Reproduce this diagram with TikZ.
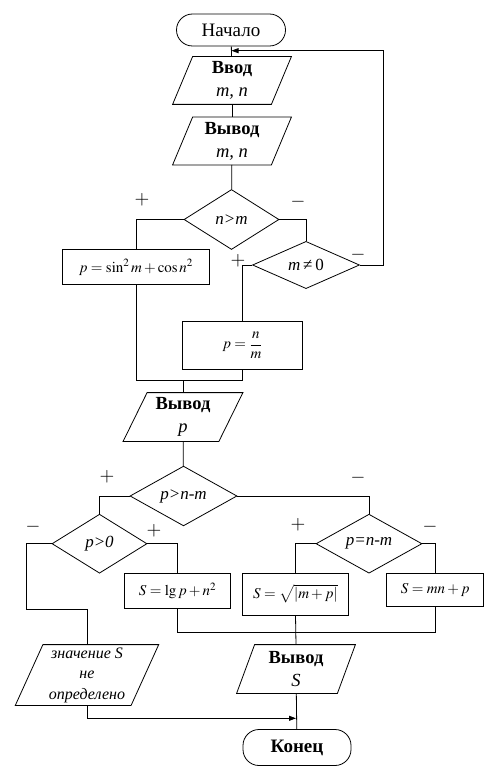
\documentclass[tikz,border=0pt]{standalone}
\usepackage{mathptmx}
\usepackage{fontspec}
\setmainfont{Liberation Serif}
\usetikzlibrary{arrows.meta,shapes.geometric}
\newcommand\drawpara[2]{\draw[ln] ([xshift=#2]#1.north west) -- ([xshift=#2]#1.north east) -- ([xshift=-#2]#1.south east) -- ([xshift=-#2]#1.south west) -- cycle;}
\begin{document}
\begin{tikzpicture}[x=1pt,y=-1pt,
  ln/.style={line width=0.8pt},
  every path/.style={line width=0.8pt},
  term/.style={draw, rectangle, rounded corners=16pt, minimum width=109pt, minimum height=32pt, inner sep=0pt, font=\fontsize{19}{21}\selectfont},
  io/.style={rectangle, inner sep=0pt, align=center, font=\fontsize{18.5}{23}\selectfont},
  proc/.style={draw, rectangle, inner sep=0pt, font=\fontsize{15}{17}\selectfont},
  dec/.style={draw, diamond, inner sep=0pt, font=\fontsize{17}{19}\selectfont},
  lbl/.style={font=\fontsize{19}{21}\selectfont, inner sep=0pt},
  arr/.style={-{Triangle[length=7pt,width=5pt]}}]
\useasboundingbox (0,0) rectangle (500,773);

% nodes
\node[term] (start) at (231,30) {Начало};
\node[io, minimum width=98pt, minimum height=47pt] (in1) at (232,80.5) {\textbf{Ввод}\\\textit{m, n}};
\node[io, minimum width=98pt, minimum height=47pt] (out1) at (232,141) {\textbf{Вывод}\\\textit{m, n}};
\node[dec, minimum width=95pt, minimum height=60pt] (d1) at (231.5,219.5) {\textit{n>m}};
\node[proc, minimum width=147pt, minimum height=35pt] (b1) at (136,267) {$p=\sin^2 m+\cos n^2$};
\node[dec, minimum width=107pt, minimum height=45pt] (d2) at (306,265) {\textit{m}\,≠\,0};
\node[proc, minimum width=120pt, minimum height=48pt] (b2) at (242.5,345.5) {$p=\displaystyle\frac{n}{m}$};
\node[io, minimum width=95pt, minimum height=48pt] (out2) at (183,417) {\textbf{Вывод}\\\textit{p}};
\node[dec, minimum width=107pt, minimum height=59pt] (d3) at (183.5,496) {\textit{p>n-m}};
\node[dec, minimum width=95pt, minimum height=59pt] (d4) at (99.5,543.7) {\textit{p>0}};
\node[dec, minimum width=106pt, minimum height=59pt] (d5) at (369,543.7) {\textit{p=n-m}};
\node[proc, minimum width=106pt, minimum height=35pt] (b3) at (177.5,591) {$S=\lg p+n^2$};
\node[proc, minimum width=106pt, minimum height=42pt] (b4) at (295.5,594) {$S=\sqrt{|m+p|}$};
\node[proc, minimum width=97pt, minimum height=33pt] (b5) at (435.3,589.7) {$S=mn+p$};
\node[io, minimum width=115pt, minimum height=60pt, font=\fontsize{16}{20.5}\selectfont\itshape] (out3) at (87,675) {значение \textit{S}\\не\\определено};
\node[io, minimum width=100pt, minimum height=48pt] (out4) at (296,669) {\textbf{Вывод}\\\textit{S}};
\node[term, minimum width=108pt, minimum height=36pt, font=\fontsize{19}{21}\selectfont\bfseries] (end) at (297,747.5) {Конец};

% parallelogram outlines
\drawpara{in1}{10pt}
\drawpara{out1}{10pt}
\drawpara{out2}{12pt}
\drawpara{out3}{13.8pt}
\drawpara{out4}{9pt}

% helper coordinates
\coordinate (j1) at (231.5,50.7);
\coordinate (loopx) at (383,0);
\coordinate (m1) at (183,380);
\coordinate (k1) at (26.7,609);
\coordinate (m2) at (296,632);
\coordinate (j2) at (296,718.3);

% connectors
\draw (start) -- (in1);
\draw (in1) -- (out1);
\draw (out1) -- (d1);
\draw (d1.west) -| (b1.north);
\draw (d1.east) -| (d2.north);
\draw (d2.west) -| (b2.north);
\draw[arr] (d2.east) -| (loopx |- j1) -- (j1);
\draw (b1.south) |- (m1);
\draw (b2.south) |- (m1);
\draw (m1) -- (out2.north);
\draw (out2) -- (d3);
\draw (d3.west) -| (d4.north);
\draw (d3.east) -| (d5.north);
\draw (d4.east) -| (b3.north);
\draw (d4.west) -| (k1) -| (out3.north);
\draw (d5.west) -| (b4.north);
\draw (d5.east) -| (b5.north);
\draw (b3.south) |- (m2);
\draw (b5.south) |- (m2);
\draw (b4.south) -- (out4.north);
\draw (out4) -- (end);
\draw[arr] (out3.south) |- (j2);

% branch labels
\node[lbl] (l1) at (142,200) {$+$};
\node[lbl] (l2) at (298,202) {$-$};
\node[lbl] (l3) at (358,255) {$-$};
\node[lbl] (l4) at (238,261) {$+$};
\node[lbl] (l5) at (107,477) {$+$};
\node[lbl] (l6) at (358,478) {$-$};
\node[lbl] (l7) at (33,527) {$-$};
\node[lbl] (l8) at (154,531) {$+$};
\node[lbl] (l9) at (298,525) {$+$};
\node[lbl] (l10) at (430,527) {$-$};
\end{tikzpicture}
\end{document}
